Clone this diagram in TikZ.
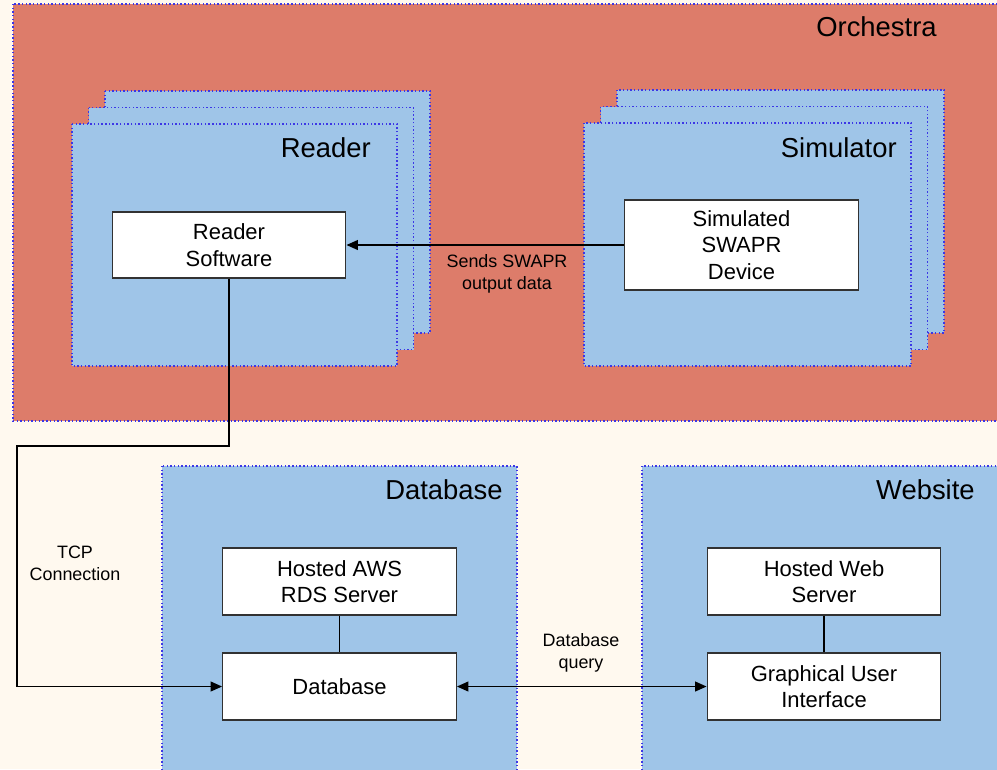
\documentclass[tikz,border=0pt]{standalone}
\usepackage{fontspec}
\setmainfont{Liberation Sans}
\usetikzlibrary{arrows.meta}

\definecolor{pagebg}{RGB}{255,249,239}
\definecolor{orchred}{RGB}{221,124,106}
\definecolor{lightblue}{RGB}{159,197,232}
\definecolor{dotblue}{RGB}{60,55,230}
\definecolor{boxedge}{RGB}{50,50,50}

\tikzset{
    group/.style={fill=#1, draw=dotblue, line width=0.6pt, dash pattern=on 0.8pt off 1.3pt},
    grouptitle/.style={anchor=east, inner sep=0pt, font=\fontsize{15.6}{18}\selectfont},
    compbox/.style={draw=boxedge, fill=white, line width=0.75pt, align=center,
        minimum width=4.67cm, font=\fontsize{12.5}{15}\selectfont},
    linklabel/.style={align=center, font=\fontsize{10.2}{12.5}\selectfont},
    link/.style={line width=1pt},
    tip/.style={-{Triangle[length=6.5pt,width=5.5pt]}}
}

\begin{document}
\begin{tikzpicture}[x=0.02cm, y=-0.02cm]
    % Page background
    \fill[pagebg] (0,0) rectangle (997,769);
    \useasboundingbox (0,0) rectangle (997,769);
    \clip (0,0) rectangle (997,769);

    % Orchestra area
    \draw[group=orchred] (13,4) rectangle (1005,421);
    \node[grouptitle] (orchtitle) at (937,27) {Orchestra};

    % Reader stack (three copies)
    \foreach \k in {2,1,0} {
        \draw[group=lightblue] (72+16.5*\k,124-16.5*\k) rectangle (397+16.5*\k,366-16.5*\k);
    }
    \node[grouptitle] (readertitle) at (371,148) {Reader};

    % Simulator stack (three copies)
    \foreach \k in {2,1,0} {
        \draw[group=lightblue] (584+16.5*\k,123-16.5*\k) rectangle (911+16.5*\k,366-16.5*\k);
    }
    \node[grouptitle] (simtitle) at (897,148) {Simulator};

    % Database and Website areas
    \draw[group=lightblue] (162,466) rectangle (517,780);
    \node[grouptitle] (dbtitle) at (503,490) {Database};
    \draw[group=lightblue] (642,466) rectangle (1005,780);
    \node[grouptitle] (webtitle) at (975,490) {Website};

    % Components
    \node[compbox, minimum height=1.32cm] (readersw) at (229,245) {Reader\\Software};
    \node[compbox, minimum height=1.8cm] (simdev) at (741.5,245) {Simulated\\SWAPR\\Device};
    \node[compbox, minimum height=1.34cm] (rds) at (339.5,581.5) {Hosted AWS\\RDS Server};
    \node[compbox, minimum height=1.34cm] (dbbox) at (339.5,686.5) {Database};
    \node[compbox, minimum height=1.34cm] (webserver) at (824,581.5) {Hosted Web\\Server};
    \node[compbox, minimum height=1.34cm] (gui) at (824,686.5) {Graphical User\\Interface};

    % Connections
    \draw[link, tip] (simdev.west) -- (readersw.east);
    \node[linklabel] (sendlbl) at (507,274) {Sends SWAPR\\output data};

    \coordinate (tcpbend) at (17,446);
    \draw[link, tip] (readersw.south) |- (tcpbend) |- (dbbox.west);
    \node[linklabel] (tcplbl) at (75,563) {TCP\\Connection};

    \draw[link] (rds) -- (dbbox);
    \draw[link] (webserver) -- (gui);

    \draw[link, {Triangle[length=6.5pt,width=5.5pt]}-{Triangle[length=6.5pt,width=5.5pt]}] (dbbox.east) -- (gui.west);
    \node[linklabel] (querylbl) at (581,653) {Database\\query};
\end{tikzpicture}
\end{document}
